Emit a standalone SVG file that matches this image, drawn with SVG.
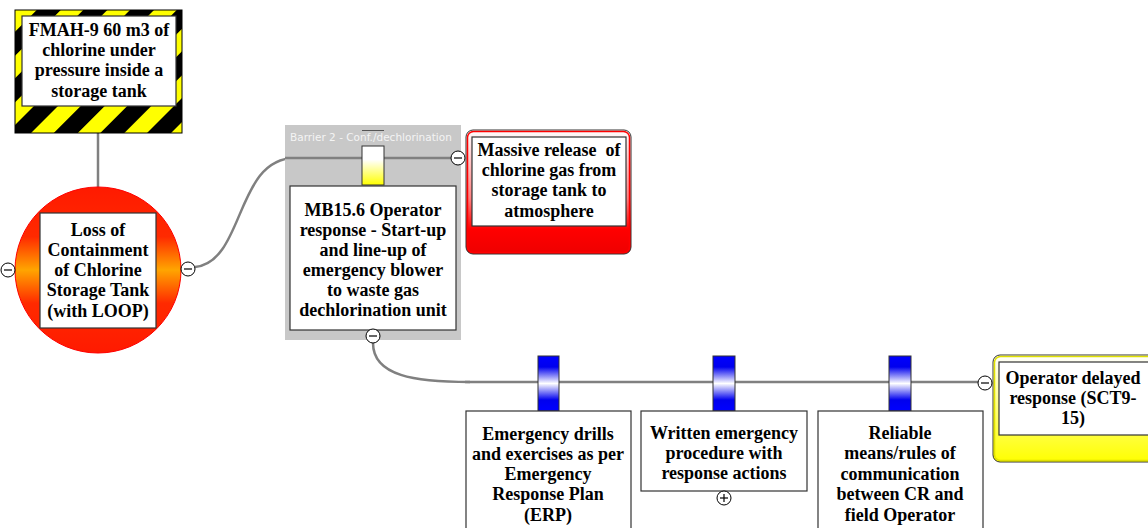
<svg xmlns="http://www.w3.org/2000/svg" width="1148" height="528" viewBox="0 0 1148 528">
<defs>
<pattern id="haz" patternUnits="userSpaceOnUse" width="33" height="33" patternTransform="rotate(45)">
<rect width="33" height="33" fill="#ffff00"/>
<rect width="17" height="33" fill="#000"/>
</pattern>
<linearGradient id="circG" x1="0" y1="0" x2="0" y2="1">
<stop offset="0" stop-color="#ff1a00"/>
<stop offset="0.3" stop-color="#ff2a00"/>
<stop offset="0.5" stop-color="#ffa500"/>
<stop offset="0.7" stop-color="#ff2a00"/>
<stop offset="1" stop-color="#ff1a00"/>
</linearGradient>
<linearGradient id="redG" x1="0" y1="0" x2="0" y2="1">
<stop offset="0" stop-color="#ffffff"/>
<stop offset="0.55" stop-color="#ff8080"/>
<stop offset="0.8" stop-color="#ff0000"/>
<stop offset="1" stop-color="#ee0000"/>
</linearGradient>
<linearGradient id="yelG" x1="0" y1="0" x2="0" y2="1">
<stop offset="0" stop-color="#ffffff"/>
<stop offset="0.6" stop-color="#ffff60"/>
<stop offset="1" stop-color="#ffff00"/>
</linearGradient>
<linearGradient id="ybarG" x1="0" y1="0" x2="0" y2="1">
<stop offset="0" stop-color="#ffffff"/>
<stop offset="0.35" stop-color="#ffffff"/>
<stop offset="1" stop-color="#ffff00"/>
</linearGradient>
<linearGradient id="bbarG" x1="0" y1="0" x2="0" y2="1">
<stop offset="0" stop-color="#0000ff"/>
<stop offset="0.2" stop-color="#0000ee"/>
<stop offset="0.5" stop-color="#ffffff"/>
<stop offset="0.8" stop-color="#0000ee"/>
<stop offset="1" stop-color="#0000ff"/>
</linearGradient>
</defs>
<style>
.t{font-family:"Liberation Serif","Times New Roman",serif;font-weight:bold;font-size:18px;fill:#000;text-anchor:middle}
.box{fill:#fff;stroke:#333;stroke-width:1.2}
.ln{fill:none;stroke:#808080;stroke-width:2.5}
.pm{fill:#fff;stroke:#000;stroke-width:1}
.pmb{stroke:#000;stroke-width:1.2}
.bar{stroke:#333;stroke-width:1}
.lbl{font-family:"DejaVu Sans",Verdana,sans-serif;font-size:10.5px;fill:#f4f4f4}
</style>

<g id="connectors">
<line class="ln" x1="98" y1="133" x2="98" y2="188"/>
<path class="ln" d="M195,267 C245,262 235,158 295,158"/>
<line class="ln" x1="290" y1="158" x2="451" y2="158"/>
<path class="ln" d="M373,343 C373,376 415,382 470,382"/>
<line class="ln" x1="465" y1="382" x2="978" y2="382"/>
</g>

<g id="hazard">
<rect x="15" y="10" width="167" height="123" fill="url(#haz)" stroke="#000" stroke-width="1"/>
<rect class="box" x="22" y="16" width="154" height="90"/>
<text class="t" x="99" y="36">FMAH-9 60 m3 of</text>
<text class="t" x="99" y="56">chlorine under</text>
<text class="t" x="99" y="76">pressure inside a</text>
<text class="t" x="99" y="97">storage tank</text>
</g>

<g id="top-event">
<circle cx="98" cy="270" r="83" fill="url(#circG)" stroke="#ff0000" stroke-width="1"/>
<rect class="box" x="40" y="213" width="116" height="115"/>
<text class="t" x="98" y="236">Loss of</text>
<text class="t" x="98" y="256">Containment</text>
<text class="t" x="98" y="276">of Chlorine</text>
<text class="t" x="98" y="296">Storage Tank</text>
<text class="t" x="98" y="317">(with LOOP)</text>
<circle class="pm" cx="8" cy="270" r="7"/>
<line class="pmb" x1="4" y1="270" x2="12" y2="270"/>
<circle class="pm" cx="188" cy="269" r="7"/>
<line class="pmb" x1="184" y1="269" x2="192" y2="269"/>
</g>

<g id="barrier-2">
<rect x="285" y="125" width="176" height="215" fill="#c8c8c8"/>
<text class="lbl" x="290" y="141">Barrier 2 - Conf./dechlorination</text>
<line x1="362" y1="130.5" x2="384" y2="130.5" stroke="#555" stroke-width="1"/>
<line class="ln" x1="285" y1="158" x2="451" y2="158"/>
<rect class="bar" x="362" y="146" width="22" height="39" fill="url(#ybarG)"/>
<rect class="box" x="290" y="186" width="166" height="144"/>
<text class="t" x="373" y="216">MB15.6 Operator</text>
<text class="t" x="373" y="236">response - Start-up</text>
<text class="t" x="373" y="256">and line-up of</text>
<text class="t" x="373" y="276">emergency blower</text>
<text class="t" x="373" y="296">to waste gas</text>
<text class="t" x="373" y="316">dechlorination unit</text>
<circle class="pm" cx="373" cy="336" r="7"/>
<line class="pmb" x1="369" y1="336" x2="377" y2="336"/>
<circle class="pm" cx="458" cy="158" r="7"/>
<line class="pmb" x1="454" y1="158" x2="462" y2="158"/>
</g>

<g id="consequence">
<rect x="466" y="130" width="165" height="124" rx="7" fill="url(#redG)" stroke="#333" stroke-width="1"/>
<rect x="467.5" y="131.5" width="162" height="121" rx="6" fill="none" stroke="#ff0000" stroke-width="1.5"/>
<rect class="box" x="472" y="137" width="154" height="89"/>
<text class="t" x="549" y="156" style="white-space:pre">Massive release  of</text>
<text class="t" x="549" y="176">chlorine gas from</text>
<text class="t" x="549" y="196">storage tank to</text>
<text class="t" x="549" y="217">atmosphere</text>
</g>

<g id="barrier-a">
<rect class="bar" x="538" y="356" width="21" height="55" fill="url(#bbarG)"/>
<rect class="box" x="466" y="411" width="165" height="125"/>
<text class="t" x="548" y="440">Emergency drills</text>
<text class="t" x="548" y="460">and exercises as per</text>
<text class="t" x="548" y="480">Emergency</text>
<text class="t" x="548" y="500">Response Plan</text>
<text class="t" x="548" y="521">(ERP)</text>
</g>

<g id="barrier-b">
<rect class="bar" x="713" y="356" width="22" height="55" fill="url(#bbarG)"/>
<rect class="box" x="641" y="411" width="166" height="80"/>
<text class="t" x="724" y="439">Written emergency</text>
<text class="t" x="724" y="459">procedure with</text>
<text class="t" x="724" y="479">response actions</text>
<circle class="pm" cx="724" cy="498" r="7"/>
<line class="pmb" x1="720" y1="498" x2="728" y2="498"/>
<line class="pmb" x1="724" y1="494" x2="724" y2="502"/>
</g>

<g id="barrier-c">
<rect class="bar" x="889" y="356" width="22" height="55" fill="url(#bbarG)"/>
<rect class="box" x="818" y="411" width="165" height="125"/>
<text class="t" x="900" y="439">Reliable</text>
<text class="t" x="900" y="459">means/rules of</text>
<text class="t" x="900" y="480">communication</text>
<text class="t" x="900" y="500">between CR and</text>
<text class="t" x="900" y="521">field Operator</text>
</g>

<g id="threat">
<rect x="993" y="355" width="165" height="107" rx="7" fill="url(#yelG)" stroke="#333" stroke-width="1"/>
<rect x="994.5" y="356.5" width="162" height="104" rx="6" fill="none" stroke="#e0e000" stroke-width="1.5"/>
<rect class="box" x="999" y="362" width="152" height="73"/>
<text class="t" x="1073" y="384">Operator delayed</text>
<text class="t" x="1073" y="404">response (SCT9-</text>
<text class="t" x="1073" y="424">15)</text>
<circle class="pm" cx="985" cy="383" r="7"/>
<line class="pmb" x1="981" y1="383" x2="989" y2="383"/>
</g>
</svg>
